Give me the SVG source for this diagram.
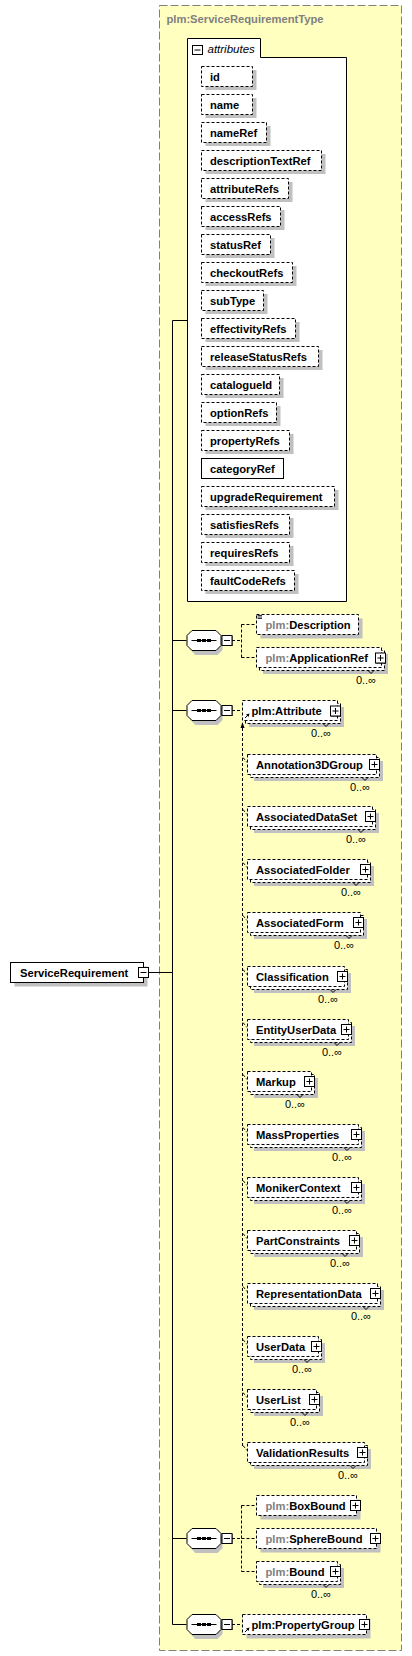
<svg xmlns="http://www.w3.org/2000/svg" xmlns:xlink="http://www.w3.org/1999/xlink" width="412" height="1656" viewBox="0 0 412 1656">
<style>
.t{font-family:"Liberation Sans",Arial,sans-serif;font-size:11.2px;font-weight:bold;fill:#000}
.g{fill:#808080}
.it{font-family:"Liberation Sans",Arial,sans-serif;font-size:11.5px;font-style:italic;fill:#000}
.c{font-family:"Liberation Sans",Arial,sans-serif;font-size:11px;fill:#000;text-anchor:end}
.opt{fill:#fff;stroke:#000;stroke-width:1;stroke-dasharray:3 2}
.sol{fill:#fff;stroke:#000;stroke-width:1}
.sh{fill:#C0C0C0}
.ln{fill:none;stroke:#000;stroke-width:1}
.dl{fill:none;stroke:#000;stroke-width:1;stroke-dasharray:3 2}
.v{fill:none;stroke:#000;stroke-width:1}
</style>
<defs>
<g id="plus"><rect x="1" y="1" width="10" height="10" fill="#000"/><rect x="0.5" y="0.5" width="10" height="10" fill="#fff" stroke="#000"/><path d="M2.5 5.5H8.5M5.5 2.5V8.5" stroke="#000" fill="none"/></g>
<g id="minus"><rect x="1" y="1" width="10" height="10" fill="#000"/><rect x="0.5" y="0.5" width="10" height="10" fill="#fff" stroke="#000"/><path d="M2.5 5.5H8.5" stroke="#000" fill="none"/></g>
<g id="seq">
<path d="M4 4H31L36 9V20L31 25H9L4 20Z" class="sh"/>
<path d="M5.5 0.5H29.5L34.5 5.5V15.5L29.5 20.5H5.5L0.5 15.5V5.5Z" class="sol"/>
<path d="M5 10.5H30" stroke="#000" fill="none"/>
<rect x="10.5" y="9" width="4" height="3" fill="#000"/><rect x="15.5" y="9" width="4" height="3" fill="#000"/><rect x="20.5" y="9" width="4" height="3" fill="#000"/>
<use xlink:href="#minus" x="35" y="5"/>
</g>
<g id="ref"><path d="M2 6L5.5 2.5" stroke="#000" fill="none"/><path d="M6.5 1.5L3 2.5L5.5 5Z" fill="#000"/></g>
</defs>

<g id="type-box">
<rect x="159.5" y="5.5" width="242" height="1645" fill="#FFFFC0" stroke="#808080" stroke-dasharray="8 3"/>
<text class="t g" x="166.5" y="23">plm:ServiceRequirementType</text>
</g>

<g id="connectors">
<path class="ln" d="M172.5 320.5V1624.5M172.5 320.5H187.5M172.5 640.5H186.5M172.5 710.5H186.5M172.5 1538.5H186.5M172.5 1624.5H186.5M149 972.5H172.5"/>
<path class="dl" d="M232 640.5H241.5M241.5 624.5V657.5M241.5 624.5H256.5M241.5 657.5H256.5"/>
<path class="dl" d="M232 710.5H242.5"/>
<path class="dl" d="M242.5 728V1448"/>
<path d="M242.5 722L240.5 728H244.5Z" fill="#000"/>
<path class="dl" d="M232 1538.5H241.5M241.5 1505.5V1571.5M241.5 1505.5H256.5M241.5 1538.5H256.5M241.5 1571.5H256.5"/>
<path class="dl" d="M232 1624.5H242.5"/>
</g>

<g id="ServiceRequirement">
<rect class="sh" x="14.5" y="966.5" width="133" height="20"/>
<rect class="sol" x="10.5" y="962.5" width="133" height="20"/>
<text class="t" x="20" y="976.5">ServiceRequirement</text>
<use xlink:href="#minus" x="138" y="967"/>
</g>

<g id="attributes">
<path class="sol" d="M187.5 601.5V38.5H260.5V57.5H346.5V601.5Z"/>
<rect x="192.5" y="45.5" width="10" height="9" fill="#fff" stroke="#000"/>
<path d="M194.5 50H200.5" stroke="#000"/>
<text class="it" x="207.5" y="53">attributes</text>
</g>

<g id="attr-id"><rect class="sh" x="205.5" y="70" width="51" height="20"/><rect class="opt" x="201.5" y="66.5" width="51" height="20"/><text class="t" x="210" y="80.5">id</text></g>
<g id="attr-name"><rect class="sh" x="205.5" y="98" width="51" height="20"/><rect class="opt" x="201.5" y="94.5" width="51" height="20"/><text class="t" x="210" y="108.5">name</text></g>
<g id="attr-nameRef"><rect class="sh" x="205.5" y="126" width="65" height="20"/><rect class="opt" x="201.5" y="122.5" width="65" height="20"/><text class="t" x="210" y="136.5">nameRef</text></g>
<g id="attr-descriptionTextRef"><rect class="sh" x="205.5" y="154" width="120" height="20"/><rect class="opt" x="201.5" y="150.5" width="120" height="20"/><text class="t" x="210" y="164.5">descriptionTextRef</text></g>
<g id="attr-attributeRefs"><rect class="sh" x="205.5" y="182" width="87" height="20"/><rect class="opt" x="201.5" y="178.5" width="87" height="20"/><text class="t" x="210" y="192.5">attributeRefs</text></g>
<g id="attr-accessRefs"><rect class="sh" x="205.5" y="210" width="79" height="20"/><rect class="opt" x="201.5" y="206.5" width="79" height="20"/><text class="t" x="210" y="220.5">accessRefs</text></g>
<g id="attr-statusRef"><rect class="sh" x="205.5" y="238" width="69" height="20"/><rect class="opt" x="201.5" y="234.5" width="69" height="20"/><text class="t" x="210" y="248.5">statusRef</text></g>
<g id="attr-checkoutRefs"><rect class="sh" x="205.5" y="266" width="91" height="20"/><rect class="opt" x="201.5" y="262.5" width="91" height="20"/><text class="t" x="210" y="276.5">checkoutRefs</text></g>
<g id="attr-subType"><rect class="sh" x="205.5" y="294" width="62" height="20"/><rect class="opt" x="201.5" y="290.5" width="62" height="20"/><text class="t" x="210" y="304.5">subType</text></g>
<g id="attr-effectivityRefs"><rect class="sh" x="205.5" y="322" width="94" height="20"/><rect class="opt" x="201.5" y="318.5" width="94" height="20"/><text class="t" x="210" y="332.5">effectivityRefs</text></g>
<g id="attr-releaseStatusRefs"><rect class="sh" x="205.5" y="350" width="117" height="20"/><rect class="opt" x="201.5" y="346.5" width="117" height="20"/><text class="t" x="210" y="360.5">releaseStatusRefs</text></g>
<g id="attr-catalogueId"><rect class="sh" x="205.5" y="378" width="78" height="20"/><rect class="opt" x="201.5" y="374.5" width="78" height="20"/><text class="t" x="210" y="388.5">catalogueId</text></g>
<g id="attr-optionRefs"><rect class="sh" x="205.5" y="406" width="75" height="20"/><rect class="opt" x="201.5" y="402.5" width="75" height="20"/><text class="t" x="210" y="416.5">optionRefs</text></g>
<g id="attr-propertyRefs"><rect class="sh" x="205.5" y="434" width="88" height="20"/><rect class="opt" x="201.5" y="430.5" width="88" height="20"/><text class="t" x="210" y="444.5">propertyRefs</text></g>
<g id="attr-categoryRef"><rect class="sol" x="201.5" y="458.5" width="82" height="20"/><text class="t" x="210" y="472.5">categoryRef</text></g>
<g id="attr-upgradeRequirement"><rect class="sh" x="205.5" y="490" width="133" height="20"/><rect class="opt" x="201.5" y="486.5" width="133" height="20"/><text class="t" x="210" y="500.5">upgradeRequirement</text></g>
<g id="attr-satisfiesRefs"><rect class="sh" x="205.5" y="518" width="88" height="20"/><rect class="opt" x="201.5" y="514.5" width="88" height="20"/><text class="t" x="210" y="528.5">satisfiesRefs</text></g>
<g id="attr-requiresRefs"><rect class="sh" x="205.5" y="546" width="88" height="20"/><rect class="opt" x="201.5" y="542.5" width="88" height="20"/><text class="t" x="210" y="556.5">requiresRefs</text></g>
<g id="attr-faultCodeRefs"><rect class="sh" x="205.5" y="574" width="93" height="20"/><rect class="opt" x="201.5" y="570.5" width="93" height="20"/><text class="t" x="210" y="584.5">faultCodeRefs</text></g>

<g id="seq1"><use xlink:href="#seq" x="186.5" y="630"/></g>
<g id="seq2"><use xlink:href="#seq" x="186.5" y="700"/></g>
<g id="seq3"><use xlink:href="#seq" x="186.5" y="1528"/></g>
<g id="seq4"><use xlink:href="#seq" x="186.5" y="1614"/></g>

<g id="Description">
<rect class="sh" x="260.5" y="618.5" width="102" height="20"/>
<rect class="opt" x="256.5" y="614.5" width="102" height="20"/>
<path d="M257.5 615.5H262M257.5 617H262M257.5 618.5H262" stroke="#000" stroke-width="0.8"/>
<text class="t" x="265.5" y="628.5"><tspan class="g">plm:</tspan>Description</text>
</g>

<g id="ApplicationRef">
<rect class="sh" x="263" y="654" width="125" height="20"/>
<rect class="opt" x="259.5" y="650.5" width="125" height="20"/>
<rect class="opt" x="256.5" y="647.5" width="125" height="20"/>
<path class="v" d="M368 670.5L371 673.5L374 670.5"/>
<text class="t" x="265.5" y="661.5"><tspan class="g">plm:</tspan>ApplicationRef</text>
<use xlink:href="#plus" x="375" y="652.5"/>
<text class="c" x="376" y="683.5">0..∞</text>
</g>

<g id="Attribute">
<rect class="sh" x="249" y="707" width="95" height="20"/>
<rect class="opt" x="245.5" y="703.5" width="95" height="20"/>
<rect class="opt" x="242.5" y="700.5" width="95" height="20"/>
<path class="v" d="M323 723.5L326 726.5L329 723.5"/>
<use xlink:href="#ref" x="243" y="712"/>
<text class="t" x="251.5" y="714.5">plm:Attribute</text>
<use xlink:href="#plus" x="330" y="705.5"/>
<text class="c" x="331" y="736.5">0..∞</text>
</g>

<g id="Annotation3DGroup"><path class="dl" d="M243 757.5L247 762.5"/><rect class="sh" x="254" y="761" width="129" height="20"/><rect class="opt" x="250.5" y="757.5" width="129" height="20"/><rect class="opt" x="247.5" y="754.5" width="129" height="20"/><path class="v" d="M362 777.5L365 780.5L368 777.5"/><text class="t" x="256" y="768.5">Annotation3DGroup</text><use xlink:href="#plus" x="369" y="759"/><text class="c" x="370" y="790.5">0..∞</text></g>
<g id="AssociatedDataSet"><path class="dl" d="M243 809.5L247 814.5"/><rect class="sh" x="254" y="813" width="125" height="20"/><rect class="opt" x="250.5" y="809.5" width="125" height="20"/><rect class="opt" x="247.5" y="806.5" width="125" height="20"/><path class="v" d="M358 829.5L361 832.5L364 829.5"/><text class="t" x="256" y="820.5">AssociatedDataSet</text><use xlink:href="#plus" x="365" y="811"/><text class="c" x="366" y="842.5">0..∞</text></g>
<g id="AssociatedFolder"><path class="dl" d="M243 862.5L247 867.5"/><rect class="sh" x="254" y="866" width="120" height="20"/><rect class="opt" x="250.5" y="862.5" width="120" height="20"/><rect class="opt" x="247.5" y="859.5" width="120" height="20"/><path class="v" d="M353 882.5L356 885.5L359 882.5"/><text class="t" x="256" y="873.5">AssociatedFolder</text><use xlink:href="#plus" x="360" y="864"/><text class="c" x="361" y="895.5">0..∞</text></g>
<g id="AssociatedForm"><path class="dl" d="M243 915.5L247 920.5"/><rect class="sh" x="254" y="919" width="113" height="20"/><rect class="opt" x="250.5" y="915.5" width="113" height="20"/><rect class="opt" x="247.5" y="912.5" width="113" height="20"/><path class="v" d="M346 935.5L349 938.5L352 935.5"/><text class="t" x="256" y="926.5">AssociatedForm</text><use xlink:href="#plus" x="353" y="917"/><text class="c" x="354" y="948.5">0..∞</text></g>
<g id="Classification"><path class="dl" d="M243 969.5L247 974.5"/><rect class="sh" x="254" y="973" width="97" height="20"/><rect class="opt" x="250.5" y="969.5" width="97" height="20"/><rect class="opt" x="247.5" y="966.5" width="97" height="20"/><path class="v" d="M330 989.5L333 992.5L336 989.5"/><text class="t" x="256" y="980.5">Classification</text><use xlink:href="#plus" x="337" y="971"/><text class="c" x="338" y="1002.5">0..∞</text></g>
<g id="EntityUserData"><path class="dl" d="M243 1022.5L247 1027.5"/><rect class="sh" x="254" y="1026" width="101" height="20"/><rect class="opt" x="250.5" y="1022.5" width="101" height="20"/><rect class="opt" x="247.5" y="1019.5" width="101" height="20"/><path class="v" d="M334 1042.5L337 1045.5L340 1042.5"/><text class="t" x="256" y="1033.5">EntityUserData</text><use xlink:href="#plus" x="341" y="1024"/><text class="c" x="342" y="1055.5">0..∞</text></g>
<g id="Markup"><path class="dl" d="M243 1074.5L247 1079.5"/><rect class="sh" x="254" y="1078" width="64" height="20"/><rect class="opt" x="250.5" y="1074.5" width="64" height="20"/><rect class="opt" x="247.5" y="1071.5" width="64" height="20"/><path class="v" d="M297 1094.5L300 1097.5L303 1094.5"/><text class="t" x="256" y="1085.5">Markup</text><use xlink:href="#plus" x="304" y="1076"/><text class="c" x="305" y="1107.5">0..∞</text></g>
<g id="MassProperties"><path class="dl" d="M243 1127.5L247 1132.5"/><rect class="sh" x="254" y="1131" width="111" height="20"/><rect class="opt" x="250.5" y="1127.5" width="111" height="20"/><rect class="opt" x="247.5" y="1124.5" width="111" height="20"/><path class="v" d="M344 1147.5L347 1150.5L350 1147.5"/><text class="t" x="256" y="1138.5">MassProperties</text><use xlink:href="#plus" x="351" y="1129"/><text class="c" x="352" y="1160.5">0..∞</text></g>
<g id="MonikerContext"><path class="dl" d="M243 1180.5L247 1185.5"/><rect class="sh" x="254" y="1184" width="111" height="20"/><rect class="opt" x="250.5" y="1180.5" width="111" height="20"/><rect class="opt" x="247.5" y="1177.5" width="111" height="20"/><path class="v" d="M344 1200.5L347 1203.5L350 1200.5"/><text class="t" x="256" y="1191.5">MonikerContext</text><use xlink:href="#plus" x="351" y="1182"/><text class="c" x="352" y="1213.5">0..∞</text></g>
<g id="PartConstraints"><path class="dl" d="M243 1233.5L247 1238.5"/><rect class="sh" x="254" y="1237" width="109" height="20"/><rect class="opt" x="250.5" y="1233.5" width="109" height="20"/><rect class="opt" x="247.5" y="1230.5" width="109" height="20"/><path class="v" d="M342 1253.5L345 1256.5L348 1253.5"/><text class="t" x="256" y="1244.5">PartConstraints</text><use xlink:href="#plus" x="349" y="1235"/><text class="c" x="350" y="1266.5">0..∞</text></g>
<g id="RepresentationData"><path class="dl" d="M243 1286.5L247 1291.5"/><rect class="sh" x="254" y="1290" width="130" height="20"/><rect class="opt" x="250.5" y="1286.5" width="130" height="20"/><rect class="opt" x="247.5" y="1283.5" width="130" height="20"/><path class="v" d="M363 1306.5L366 1309.5L369 1306.5"/><text class="t" x="256" y="1297.5">RepresentationData</text><use xlink:href="#plus" x="370" y="1288"/><text class="c" x="371" y="1319.5">0..∞</text></g>
<g id="UserData"><path class="dl" d="M243 1339.5L247 1344.5"/><rect class="sh" x="254" y="1343" width="71" height="20"/><rect class="opt" x="250.5" y="1339.5" width="71" height="20"/><rect class="opt" x="247.5" y="1336.5" width="71" height="20"/><path class="v" d="M304 1359.5L307 1362.5L310 1359.5"/><text class="t" x="256" y="1350.5">UserData</text><use xlink:href="#plus" x="311" y="1341"/><text class="c" x="312" y="1372.5">0..∞</text></g>
<g id="UserList"><path class="dl" d="M243 1392.5L247 1397.5"/><rect class="sh" x="254" y="1396" width="69" height="20"/><rect class="opt" x="250.5" y="1392.5" width="69" height="20"/><rect class="opt" x="247.5" y="1389.5" width="69" height="20"/><path class="v" d="M302 1412.5L305 1415.5L308 1412.5"/><text class="t" x="256" y="1403.5">UserList</text><use xlink:href="#plus" x="309" y="1394"/><text class="c" x="310" y="1425.5">0..∞</text></g>
<g id="ValidationResults"><path class="dl" d="M243 1445.5L247 1450.5"/><rect class="sh" x="254" y="1449" width="117" height="20"/><rect class="opt" x="250.5" y="1445.5" width="117" height="20"/><rect class="opt" x="247.5" y="1442.5" width="117" height="20"/><path class="v" d="M350 1465.5L353 1468.5L356 1465.5"/><text class="t" x="256" y="1456.5">ValidationResults</text><use xlink:href="#plus" x="357" y="1447"/><text class="c" x="358" y="1478.5">0..∞</text></g>

<g id="BoxBound">
<rect class="sh" x="260.5" y="1499.5" width="100" height="20"/>
<rect class="opt" x="256.5" y="1495.5" width="100" height="20"/>
<text class="t" x="265.5" y="1509.5"><tspan class="g">plm:</tspan>BoxBound</text>
<use xlink:href="#plus" x="350" y="1500"/>
</g>
<g id="SphereBound">
<rect class="sh" x="260.5" y="1532.5" width="120" height="20"/>
<rect class="opt" x="256.5" y="1528.5" width="120" height="20"/>
<text class="t" x="265.5" y="1542.5"><tspan class="g">plm:</tspan>SphereBound</text>
<use xlink:href="#plus" x="370" y="1533"/>
</g>
<g id="Bound">
<rect class="sh" x="263" y="1568" width="81" height="20"/>
<rect class="opt" x="259.5" y="1564.5" width="81" height="20"/>
<rect class="opt" x="256.5" y="1561.5" width="81" height="20"/>
<path class="v" d="M323 1584.5L326 1587.5L329 1584.5"/>
<text class="t" x="265.5" y="1575.5"><tspan class="g">plm:</tspan>Bound</text>
<use xlink:href="#plus" x="330" y="1566"/>
<text class="c" x="331" y="1597.5">0..∞</text>
</g>
<g id="PropertyGroup">
<rect class="sh" x="246.5" y="1618.5" width="124" height="20"/>
<rect class="opt" x="242.5" y="1614.5" width="124" height="20"/>
<use xlink:href="#ref" x="243" y="1626"/>
<text class="t" x="251.5" y="1628.5">plm:PropertyGroup</text>
<use xlink:href="#plus" x="359" y="1619"/>
</g>
</svg>
